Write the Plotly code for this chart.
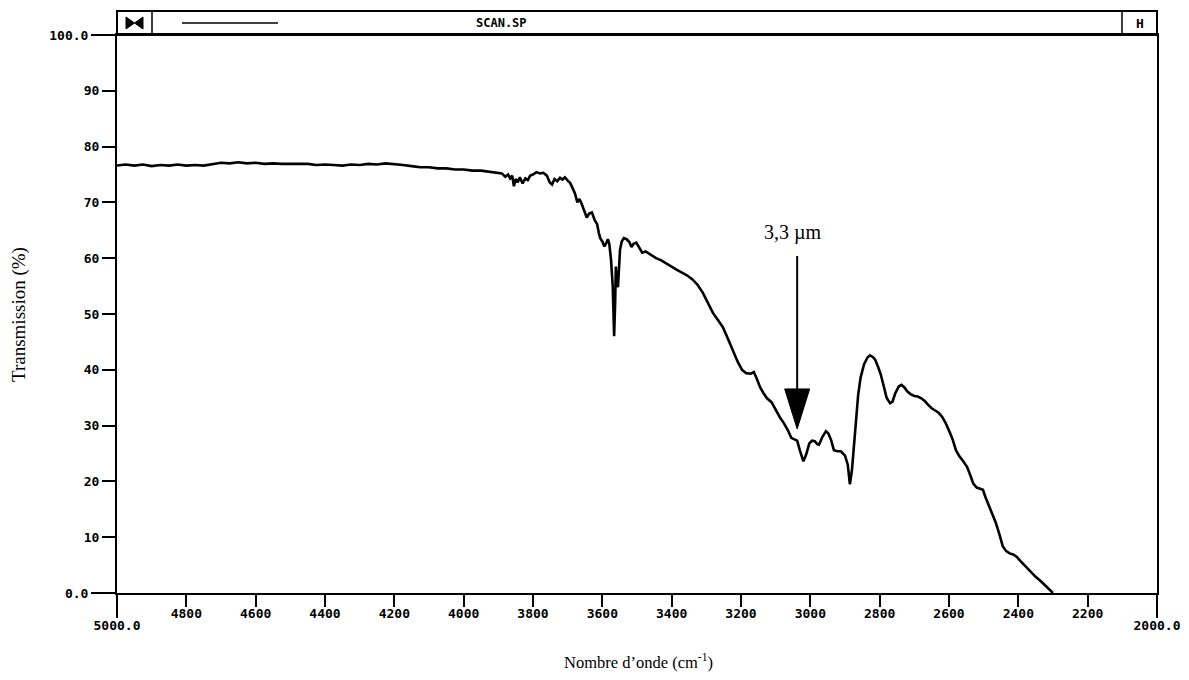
import plotly.graph_objects as go

# ---------------- data ----------------
wavenumber = [
    5000, 4975, 4950, 4925, 4900, 4875, 4850, 4825, 4800, 4775, 4750, 4725, 4700, 4675, 4650, 4625,
    4600, 4575, 4550, 4525, 4500, 4475, 4450, 4425, 4400, 4375, 4350, 4325, 4300, 4275, 4250, 4225,
    4200, 4175, 4150, 4125, 4100, 4075, 4050, 4025, 4000, 3975, 3950, 3925, 3900,
    3890, 3880, 3872, 3866, 3860, 3855, 3850, 3844, 3838, 3830, 3822, 3815, 3808, 3800, 3790, 3780,
    3770, 3760, 3752, 3745, 3738, 3730, 3722, 3715, 3708, 3700, 3693, 3686, 3679, 3672, 3666, 3660,
    3652, 3645, 3638, 3630, 3622, 3615, 3610, 3606, 3600, 3594, 3588, 3584, 3580, 3575, 3570, 3566,
    3563, 3561, 3558, 3555, 3552, 3549, 3544, 3538, 3530, 3522, 3516, 3510, 3502, 3495, 3485, 3475,
    3460, 3445, 3430, 3415, 3400, 3385, 3370, 3355, 3340, 3325, 3310, 3295, 3281, 3265, 3252, 3238,
    3223, 3210, 3197, 3185, 3172, 3163, 3155, 3145, 3135, 3125, 3112, 3100, 3088, 3076, 3065, 3055,
    3045, 3038, 3030, 3020, 3012, 3003, 2995, 2987, 2980, 2975, 2965, 2955, 2948, 2940, 2932, 2922,
    2912, 2900, 2892, 2886, 2880, 2874, 2868, 2862, 2855, 2845, 2835, 2828, 2820, 2813, 2805, 2797,
    2788, 2780, 2770, 2763, 2755, 2745, 2737, 2728, 2720, 2710, 2700, 2690, 2680, 2670, 2660, 2650,
    2640, 2630, 2620, 2610, 2600, 2590, 2580, 2570, 2560, 2548, 2538, 2530, 2520, 2510, 2502, 2495,
    2485, 2475, 2465, 2455, 2445, 2435, 2425, 2415, 2405, 2395, 2380, 2366, 2350, 2335, 2320, 2308,
    2300,
]
transmission = [
    76.6, 76.8, 76.6, 76.8, 76.5, 76.7, 76.6, 76.8, 76.6, 76.7, 76.6, 76.9, 77.1, 77.0, 77.2, 77.0,
    77.1, 76.9, 77.0, 76.9, 76.9, 76.8, 76.9, 76.7, 76.8, 76.7, 76.6, 76.8, 76.7, 76.9, 76.8, 77.0,
    76.9, 76.7, 76.5, 76.3, 76.3, 76.1, 76.1, 75.9, 75.9, 75.7, 75.7, 75.5, 75.4,
    75.2, 74.6, 75.0, 74.3, 74.8, 72.9, 74.2, 73.6, 74.5, 73.4, 74.3, 74.0, 74.8, 75.0, 75.4, 75.2,
    75.3, 74.8, 73.6, 73.2, 74.2, 73.8, 74.4, 74.1, 74.5, 73.9, 73.5, 72.6, 71.6, 70.0, 70.6, 69.8,
    68.5, 67.3, 68.0, 68.2, 66.8, 66.1, 64.5, 63.6, 63.0, 62.1, 62.8, 63.4, 62.6, 59.8, 55.0, 46.0,
    52.0, 58.5, 56.0, 54.8, 58.0, 61.5, 63.0, 63.6, 63.4, 62.9, 62.0, 62.6, 62.8, 62.0, 61.0, 61.2,
    60.6, 60.0, 59.6, 59.0, 58.4, 57.9, 57.4, 56.9, 56.2, 55.2, 53.8, 52.0, 50.2, 48.8, 47.6, 45.6,
    43.4, 41.5, 40.0, 39.4, 39.3, 39.6, 38.5, 36.9, 35.8, 34.9, 34.2, 32.8, 31.5, 30.4, 29.2, 27.8,
    27.5, 27.3, 25.5, 23.6, 24.8, 26.8, 27.3, 27.2, 26.7, 26.6, 28.0, 29.0, 28.6, 27.4, 25.6, 25.4,
    25.4, 24.6, 23.0, 19.5, 22.0, 27.0, 31.5, 35.5, 38.6, 41.0, 42.2, 42.6, 42.3, 41.8, 40.6, 39.2,
    37.0, 35.0, 34.0, 34.3, 35.8, 37.0, 37.3, 36.8, 36.1, 35.6, 35.3, 35.2, 34.9, 34.4, 33.7, 33.1,
    32.7, 32.3, 31.6, 30.5, 29.1, 27.6, 25.6, 24.5, 23.7, 22.6, 21.0, 19.6, 18.9, 18.7, 18.5, 17.2,
    15.6, 14.3, 12.6, 10.6, 8.4, 7.5, 7.1, 6.9, 6.5, 5.8, 4.8, 4.0, 2.9, 2.1, 1.2, 0.4,
    0.0,
]

x_tick_vals = [4800, 4600, 4400, 4200, 4000, 3800, 3600, 3400, 3200, 3000, 2800, 2600, 2400, 2200]
x_tick_text = [str(v) for v in x_tick_vals]
x_end_vals = [5000, 2000]
x_end_text = ["5000.0", "2000.0"]
y_tick_vals = [10, 20, 30, 40, 50, 60, 70, 80, 90]
y_tick_text = [str(v) for v in y_tick_vals]
y_end_vals = [0, 100]
y_end_text = ["0.0", "100.0"]

arrow_wn = 3038
arrow_tip = 29.4
arrow_tail = 60.4
arrow_label = "3,3 µm"

# ---------------- figure ----------------
W, H = 1189, 680
X0, X1, Y0, Y1 = 117, 1157, 35, 593   # plot area in pixels
ML, MR, MT, MB = X0, W - X1, Y0, H - Y1
PW, PH = X1 - X0, Y1 - Y0


def px(xp):
    return (xp - X0) / PW


def py(yp):
    return (Y1 - yp) / PH


tick_font = dict(family="DejaVu Sans Mono", size=13, color="black", weight="bold")
serif = "Liberation Serif"

fig = go.Figure()
fig.add_trace(go.Scatter(
    x=wavenumber, y=transmission, mode="lines",
    line=dict(color="black", width=2.6), showlegend=False, hoverinfo="skip",
))
# invisible trace so the secondary axes (long end ticks) are drawn
fig.add_trace(go.Scatter(x=x_end_vals, y=[None, None], xaxis="x2", yaxis="y2",
                         showlegend=False, mode="lines", hoverinfo="skip"))

common = dict(tickmode="array", tickcolor="black", tickwidth=2, ticks="outside",
              showgrid=False, zeroline=False, tickfont=tick_font, automargin=False)

fig.update_layout(
    width=W, height=H, autosize=False,
    margin=dict(l=ML, r=MR, t=MT, b=MB, pad=0),
    paper_bgcolor="white", plot_bgcolor="white",
    xaxis=dict(range=[5000, 2000], tickvals=x_tick_vals, ticktext=x_tick_text, ticklen=12,
               showline=True, linewidth=2, linecolor="black", mirror=True,
               ticklabelstandoff=-5, **common),
    xaxis2=dict(range=[5000, 2000], overlaying="x", anchor="y", side="bottom",
                tickvals=x_end_vals, ticktext=x_end_text, ticklen=24, showline=False,
                ticklabelstandoff=-4, **common),
    yaxis=dict(range=[0, 100], tickvals=y_tick_vals, ticktext=y_tick_text, ticklen=13,
               showline=True, linewidth=2, linecolor="black", mirror=True,
               ticklabelstandoff=0, **common),
    yaxis2=dict(range=[0, 100], overlaying="y", anchor="x", side="left",
                tickvals=y_end_vals, ticktext=y_end_text, ticklen=25, showline=False,
                ticklabelstandoff=0, **common),
)

# ---- header bar ----
shapes = []
bar_top = py(11)
shapes.append(dict(type="rect", xref="paper", yref="paper", x0=0, x1=1, y0=1, y1=bar_top,
                   line=dict(color="black", width=2), fillcolor="rgba(0,0,0,0)"))
shapes.append(dict(type="rect", xref="paper", yref="paper", x0=0, x1=px(152), y0=1, y1=bar_top,
                   line=dict(color="black", width=1.5)))
shapes.append(dict(type="rect", xref="paper", yref="paper", x0=px(1122), x1=1, y0=1, y1=bar_top,
                   line=dict(color="black", width=1.5)))
shapes.append(dict(type="line", xref="paper", yref="paper", x0=px(182), x1=px(278), y0=py(23), y1=py(23),
                   line=dict(color="black", width=1.5)))
bow = "M {a},{t} L {c},{m} L {a},{b} Z M {d},{t} L {c},{m} L {d},{b} Z".format(
    a=px(126), c=px(134.5), d=px(143), t=py(17), m=py(23), b=py(29))
shapes.append(dict(type="path", xref="paper", yref="paper", path=bow,
                   fillcolor="black", line=dict(color="black", width=1)))

# ---- arrow (shaft + head) ----
head_len = 40 / PH * 100
head_half = 12.5 / PW * 3000
shapes.append(dict(type="line", xref="x", yref="y", x0=arrow_wn, x1=arrow_wn,
                   y0=arrow_tail, y1=arrow_tip + head_len, line=dict(color="black", width=2)))
head = "M {l},{b} L {r},{b} L {c},{t} Z".format(
    l=arrow_wn + head_half, r=arrow_wn - head_half, c=arrow_wn, b=arrow_tip + head_len, t=arrow_tip)
shapes.append(dict(type="path", xref="x", yref="y", path=head,
                   fillcolor="black", line=dict(color="black", width=1)))
fig.update_layout(shapes=shapes)

annotations = [
    dict(text="SCAN.SP", xref="paper", yref="paper", x=px(501), y=py(23), showarrow=False,
         font=dict(family="DejaVu Sans Mono", size=12, color="black", weight="bold"),
         xanchor="center", yanchor="middle"),
    dict(text="H", xref="paper", yref="paper", x=px(1139.5), y=py(23), showarrow=False,
         font=dict(family="DejaVu Sans Mono", size=13, color="black", weight="bold"),
         xanchor="center", yanchor="middle"),
    dict(text="Transmission (%)", xref="paper", yref="paper", x=px(19), y=py(315), showarrow=False,
         textangle=-90, font=dict(family=serif, size=19, color="black"),
         xanchor="center", yanchor="middle"),
    dict(text="Nombre d’onde (cm<sup>-1</sup>)", xref="paper", yref="paper", x=px(638), y=py(662),
         showarrow=False, font=dict(family=serif, size=16.5, color="black"),
         xanchor="center", yanchor="middle"),
    dict(text=arrow_label, xref="x", yref="y", x=arrow_wn, y=arrow_tail, yshift=23, xshift=-4,
         showarrow=False, font=dict(family=serif, size=20, color="black"),
         xanchor="center", yanchor="middle"),
]
fig.update_layout(annotations=annotations)

fig.write_html(
    "out.html",
    config={"responsive": False, "displayModeBar": False},
    post_script="document.body.style.margin='0';document.body.style.overflow='hidden';"
                "document.documentElement.style.overflow='hidden';",
)
